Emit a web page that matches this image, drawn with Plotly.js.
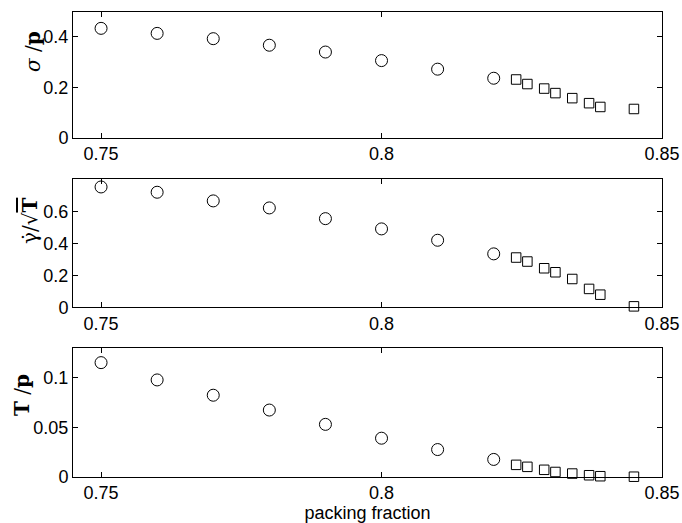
<!DOCTYPE html>
<html>
<head>
<meta charset="utf-8">
<script src="https://cdn.plot.ly/plotly-3.0.1.min.js"></script>
<style>html,body{margin:0;padding:0;background:#fff;}#chart{width:682px;height:523px;}</style>
</head>
<body>
<div id="chart"></div>
<script>
// packing fraction values
var phiCircles = [0.750, 0.760, 0.770, 0.780, 0.790, 0.800, 0.810, 0.820];
var phiSquares = [0.824, 0.826, 0.829, 0.831, 0.834, 0.837, 0.839, 0.845];

// panel 1: sigma / p
var sigmaCircles = [0.434, 0.414, 0.393, 0.367, 0.340, 0.306, 0.272, 0.236];
var sigmaSquares = [0.231, 0.213, 0.195, 0.177, 0.157, 0.137, 0.122, 0.114];

// panel 2: gammadot / sqrt(T)
var gdotCircles = [0.752, 0.719, 0.665, 0.621, 0.554, 0.490, 0.419, 0.334];
var gdotSquares = [0.311, 0.286, 0.244, 0.219, 0.177, 0.115, 0.079, 0.006];

// panel 3: T / p
var tCircles = [0.1155, 0.0980, 0.0825, 0.0675, 0.0530, 0.0390, 0.0275, 0.0175];
var tSquares = [0.0120, 0.0100, 0.0070, 0.0048, 0.0032, 0.0015, 0.0005, 0.0000];

var xTicks = [0.75, 0.8, 0.85];
var xTickText = ['0.75', '0.8', '0.85'];

var circleMarker = {symbol: 'circle-open', size: 12, color: '#000', line: {width: 1, color: '#000'}};
var squareMarker = {symbol: 'square-open', size: 9.5, color: '#000', line: {width: 1, color: '#000'}};

function pair(xa, ya, yc, ys) {
  return [
    {x: phiCircles, y: yc, mode: 'markers', type: 'scatter', marker: circleMarker, xaxis: xa, yaxis: ya, cliponaxis: false, showlegend: false},
    {x: phiSquares, y: ys, mode: 'markers', type: 'scatter', marker: squareMarker, xaxis: xa, yaxis: ya, cliponaxis: false, showlegend: false}
  ];
}

var data = [].concat(
  pair('x', 'y', sigmaCircles, sigmaSquares),
  pair('x2', 'y2', gdotCircles, gdotSquares),
  pair('x3', 'y3', tCircles, tSquares)
);

var tickFont = {family: 'Liberation Sans, Arial, sans-serif', size: 18, color: '#000'};

function xax(anchor) {
  return {
    anchor: anchor, domain: [0, 1], range: [0.745, 0.85],
    tickvals: xTicks, ticktext: xTickText,
    ticks: 'inside', ticklen: 5, tickwidth: 1, tickcolor: '#000',
    showline: true, linecolor: '#000', linewidth: 1, mirror: 'ticks',
    showgrid: false, zeroline: false, tickfont: tickFont
  };
}
function yax(anchor, domain, range, tv, tt) {
  return {
    anchor: anchor, domain: domain, range: range,
    tickvals: tv, ticktext: tt,
    ticks: 'inside', ticklen: 5, tickwidth: 1, tickcolor: '#000',
    showline: true, linecolor: '#000', linewidth: 1, mirror: 'ticks',
    showgrid: false, zeroline: false, tickfont: tickFont
  };
}

var xa3 = xax('y3');
xa3.title = {text: 'packing fraction', font: {family: 'Liberation Sans, Arial, sans-serif', size: 18, color: '#000'}, standoff: 0};

var serif = {family: 'DejaVu Serif, Liberation Serif, serif', size: 20, color: '#000'};

var yTitles = [
  '<i>σ</i> /<b>p</b>',
  'γ̇/√<span style="text-decoration:overline"><b>T</b></span>',
  '<b>T</b> /<b>p</b>'
];
var yTitlePx = [[33, 52], [30, 221], [22, 395]];

var layout = {
  width: 682, height: 523,
  margin: {l: 73, r: 20, t: 0, b: 0},
  paper_bgcolor: '#fff', plot_bgcolor: '#fff',
  xaxis: xax('y'),
  xaxis2: xax('y2'),
  xaxis3: xa3,
  yaxis: yax('x', [0.7367, 0.9776], [0, 0.5], [0, 0.2, 0.4], ['0', '0.2', '0.4']),
  yaxis2: yax('x2', [0.4124, 0.6572], [0, 0.8], [0, 0.2, 0.4, 0.6], ['0', '0.2', '0.4', '0.6']),
  yaxis3: yax('x3', [0.0885, 0.3340], [0, 0.13], [0, 0.05, 0.1], ['0', '0.05', '0.1']),
  annotations: yTitles.map(function (t, i) {
    return {
      text: t, textangle: -90, xref: 'paper', yref: 'paper',
      x: (yTitlePx[i][0] - 73) / 589, y: 1 - yTitlePx[i][1] / 523,
      showarrow: false, font: serif, xanchor: 'center', yanchor: 'middle'
    };
  })
};

Plotly.newPlot('chart', data, layout, {staticPlot: true});
</script>
</body>
</html>
